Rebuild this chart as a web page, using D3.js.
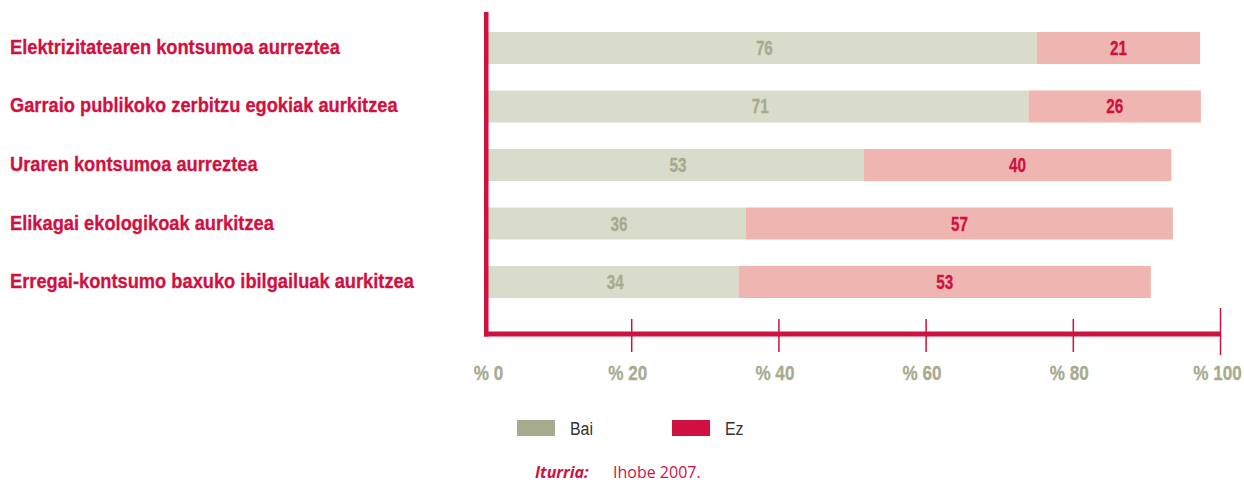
<!DOCTYPE html>
<html>
<head>
<meta charset="utf-8">
<script src="https://cdn.jsdelivr.net/npm/d3@7"></script>
<style>
  html, body { margin: 0; padding: 0; background: #fff; }
  svg { display: block; }
  .cond { font-family: "Liberation Sans", Arial, sans-serif; }
</style>
</head>
<body>
<div id="chart"></div>
<script>
// ---- data ----
const categories = [
  "Elektrizitatearen kontsumoa aurreztea",
  "Garraio publikoko zerbitzu egokiak aurkitzea",
  "Uraren kontsumoa aurreztea",
  "Elikagai ekologikoak aurkitzea",
  "Erregai-kontsumo baxuko ibilgailuak aurkitzea"
];
// printed values
const baiLabels = [76, 71, 53, 36, 34];
const ezLabels  = [21, 26, 40, 57, 53];
// segment lengths as drawn in the picture (%)
const baiValues = [75.1, 74.0, 51.6, 35.6, 34.6];
const ezValues  = [22.2, 23.4, 41.8, 58.0, 56.0];
const tickValues = [0, 20, 40, 60, 80, 100];
const seriesNames = ["Bai", "Ez"];
const sourceLabel = "Iturria:";
const sourceText = "Ihobe 2007.";

// ---- styles ----
const crimson = "#d0103f";
const grayBar = "#d9dccb";
const redBar = "#efb5b1";
const grayText = "#a7ab8d";

const W = 1244, H = 482;
const svg = d3.select("#chart").append("svg").attr("width", W).attr("height", H);

const x = d3.scaleLinear().domain([0, 100]).range([484, 1220]);
const y = d3.scaleBand().domain(categories).range([32, 298]).paddingInner(0.453).paddingOuter(0);

const rows = categories.map((c, i) => ({
  cat: c, bai: baiValues[i], ez: ezValues[i], baiLab: baiLabels[i], ezLab: ezLabels[i]
}));

// condensing factor so that a reference text gets a target width
function fitFactor(str, size, weight, target) {
  const t = svg.append("text").attr("class", "cond")
    .attr("font-size", size).attr("font-weight", weight).text(str);
  const w = t.node().getComputedTextLength();
  t.remove();
  return target / w;
}
// condense a text selection: keep anchor position, scale glyphs horizontally
function narrow(sel, sx) {
  sel.each(function () {
    const t = d3.select(this);
    const tx = +t.attr("x") || 0, ty = +t.attr("y") || 0;
    t.attr("x", 0).attr("y", 0)
     .attr("transform", `translate(${tx},${ty}) scale(${sx},1)`);
  });
}

const catSize = 20.5, valSize = 20, tickSize = 20, legSize = 19;
const SX_CAT = fitFactor(categories[0], catSize, "bold", 330);
const SX_VAL = fitFactor("21", valSize, "bold", 17);
const SX_TICK = fitFactor("% 20", tickSize, "bold", 39);
const SX_LEG = fitFactor("Bai", legSize, "normal", 23);

// bars
const g = svg.append("g");
g.selectAll("rect.bai").data(rows).join("rect")
  .attr("class", "bai")
  .attr("x", x(0)).attr("y", d => y(d.cat))
  .attr("width", d => x(d.bai) - x(0)).attr("height", y.bandwidth())
  .attr("fill", grayBar);
g.selectAll("rect.ez").data(rows).join("rect")
  .attr("class", "ez")
  .attr("x", d => x(d.bai)).attr("y", d => y(d.cat))
  .attr("width", d => x(d.bai + d.ez) - x(d.bai)).attr("height", y.bandwidth())
  .attr("fill", redBar);

// value labels
g.selectAll("text.baiLab").data(rows).join("text")
  .attr("class", "cond baiLab")
  .attr("x", d => (x(0) + x(d.bai)) / 2 + 4)
  .attr("y", d => y(d.cat) + y.bandwidth() / 2 + 7)
  .attr("text-anchor", "middle")
  .attr("font-size", valSize).attr("font-weight", "bold")
  .attr("fill", grayText).attr("stroke", grayText).attr("stroke-width", 0.3)
  .text(d => d.baiLab)
  .call(narrow, SX_VAL);
g.selectAll("text.ezLab").data(rows).join("text")
  .attr("class", "cond ezLab")
  .attr("x", d => (x(d.bai) + x(d.bai + d.ez)) / 2)
  .attr("y", d => y(d.cat) + y.bandwidth() / 2 + 7)
  .attr("text-anchor", "middle")
  .attr("font-size", valSize).attr("font-weight", "bold")
  .attr("fill", crimson).attr("stroke", crimson).attr("stroke-width", 0.3)
  .text(d => d.ezLab)
  .call(narrow, SX_VAL);

// category labels
svg.selectAll("text.cat").data(rows).join("text")
  .attr("class", "cond cat")
  .attr("x", 10)
  .attr("y", d => y(d.cat) + y.bandwidth() / 2 + 6)
  .attr("font-size", catSize).attr("font-weight", "bold")
  .attr("fill", crimson).attr("stroke", crimson).attr("stroke-width", 0.3)
  .text(d => d.cat)
  .call(narrow, SX_CAT);

// x axis
const axisTop = 319;
const axis = d3.axisBottom(x).tickValues(tickValues).tickFormat(d => "% " + d)
  .tickSize(33).tickPadding(14);
const ax = svg.append("g").attr("transform", `translate(0,${axisTop})`).call(axis);
ax.select(".domain").remove();
ax.selectAll(".tick line").attr("stroke", crimson).attr("stroke-width", 1.5)
  .attr("display", d => d === 0 ? "none" : null)
  .attr("y1", d => d === 100 ? -11 : 0)
  .attr("y2", d => d === 100 ? 36 : 33);
ax.selectAll(".tick text")
  .attr("class", "cond")
  .attr("font-size", tickSize).attr("font-weight", "bold")
  .attr("fill", grayText).attr("stroke", grayText).attr("stroke-width", 0.3)
  .attr("dy", null)
  .attr("x", d => d === 0 ? 4 : d === 100 ? -3 : -4)
  .attr("y", 61)
  .call(narrow, SX_TICK);

// axis frame lines
svg.append("line")
  .attr("x1", x(0) + 2.25).attr("x2", x(0) + 2.25)
  .attr("y1", 12).attr("y2", 336.5)
  .attr("stroke", crimson).attr("stroke-width", 4.5);
svg.append("line")
  .attr("x1", x(0)).attr("x2", x(100))
  .attr("y1", 334).attr("y2", 334)
  .attr("stroke", crimson).attr("stroke-width", 5);

// legend
const legendColors = [grayText, crimson];
const legendX = [517, 672];
const lg = svg.selectAll("g.leg").data(seriesNames).join("g")
  .attr("class", "leg")
  .attr("transform", (d, i) => `translate(${legendX[i]},420)`);
lg.append("rect").attr("width", 38).attr("height", 16).attr("fill", (d, i) => legendColors[i]);
lg.append("text").attr("class", "cond")
  .attr("x", 53).attr("y", 14.5)
  .attr("font-size", legSize).attr("fill", "#333")
  .text(d => d)
  .call(narrow, SX_LEG);

// source
svg.append("text")
  .attr("x", 535).attr("y", 478)
  .attr("font-family", "'Open Sans', 'Noto Sans', sans-serif")
  .attr("font-size", 16).attr("font-style", "italic").attr("font-weight", "bold")
  .attr("fill", crimson)
  .text(sourceLabel);
svg.append("text")
  .attr("x", 613).attr("y", 478)
  .attr("font-family", "'Open Sans', 'Noto Sans', sans-serif")
  .attr("font-size", 16)
  .attr("fill", crimson)
  .text(sourceText);
</script>
</body>
</html>
